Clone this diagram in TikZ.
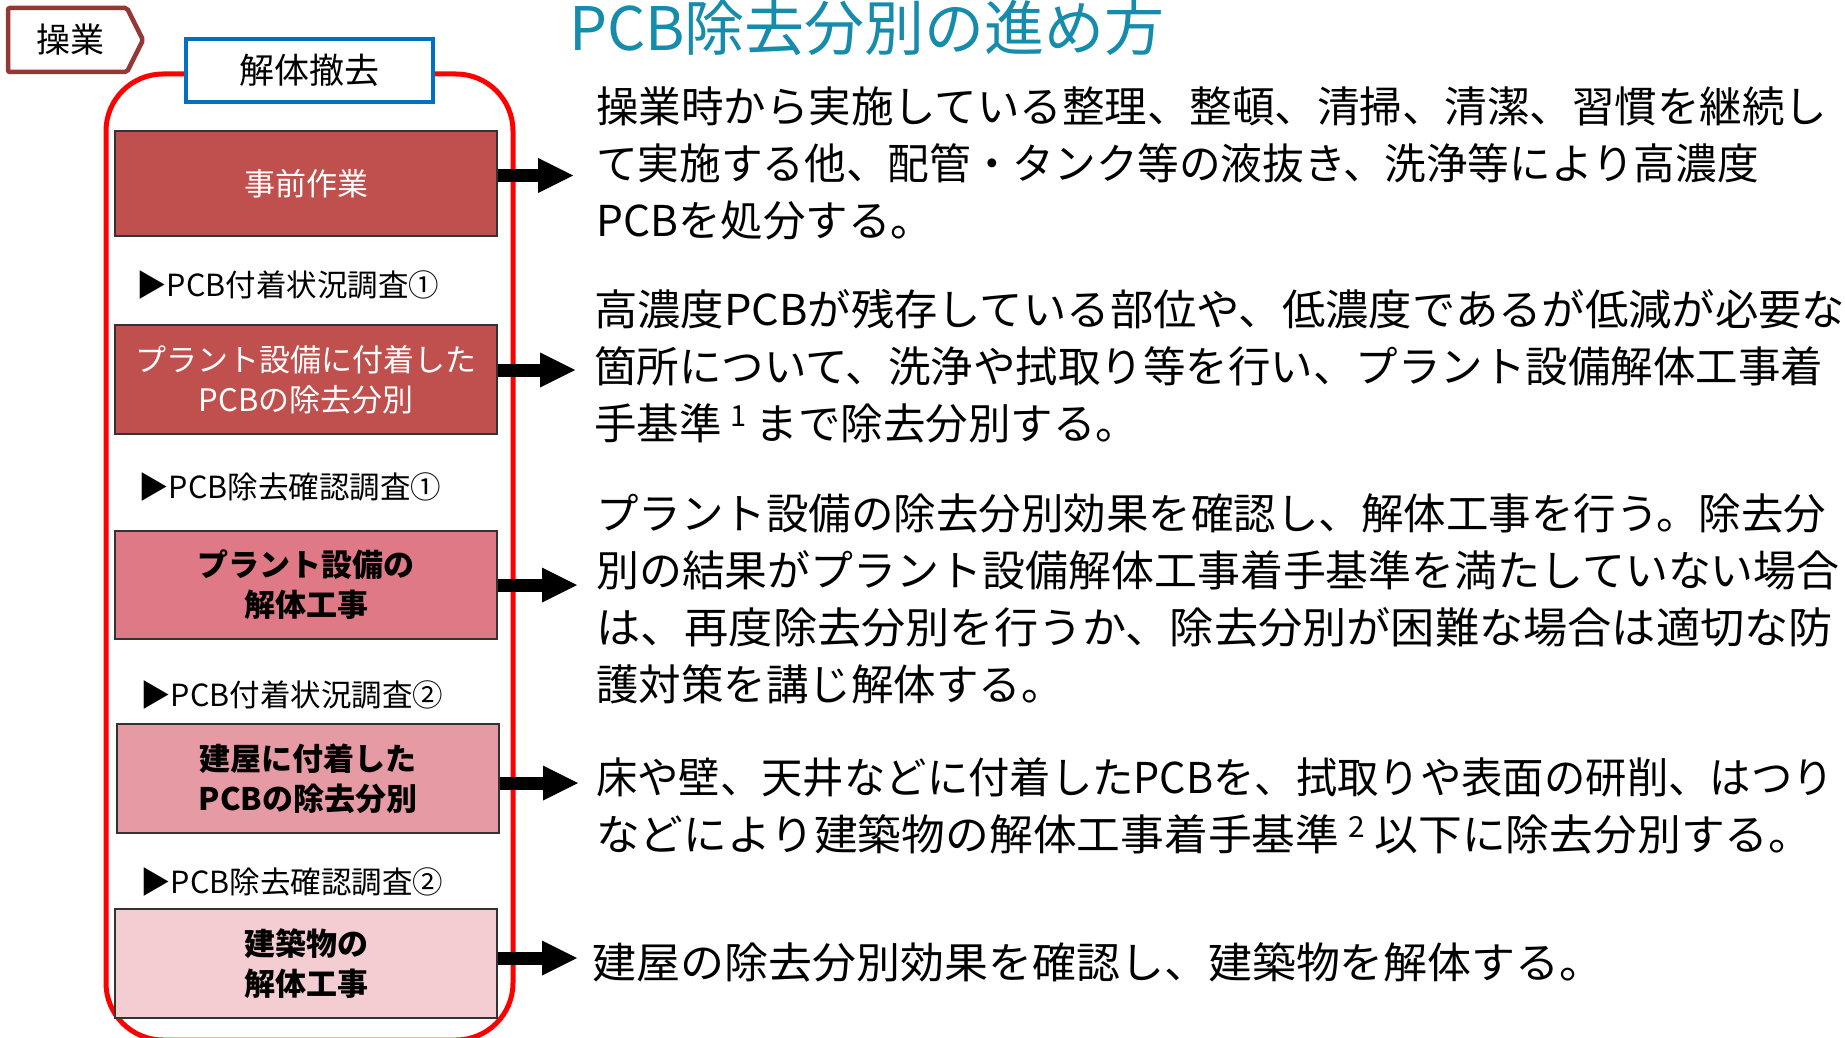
\documentclass[tikz,border=0pt]{standalone}
\usepackage{graphicx}
\usepackage{fontspec}
\setmainfont{Noto Sans CJK JP}
\usetikzlibrary{arrows.meta}
\definecolor{tagred}{RGB}{149,55,53}
\definecolor{hdblue}{RGB}{0,112,192}
\definecolor{boxA}{RGB}{192,80,77}
\definecolor{boxB}{RGB}{223,121,134}
\definecolor{boxC}{RGB}{230,155,164}
\definecolor{boxD}{RGB}{243,205,210}
\definecolor{titleteal}{RGB}{22,140,172}
\newcommand{\supnum}[1]{\hspace{9pt}\raisebox{13pt}{\fontsize{29pt}{29pt}\selectfont #1}\hspace{9pt}}
\newcommand{\sx}[2]{\scalebox{#1}[1]{#2}}
\begin{document}
\begin{tikzpicture}[x=1pt,y=-1pt,
  stepbox/.style={draw=black!80, line width=1.2pt, minimum width=382pt, inner sep=0pt, align=center, font=\fontsize{31pt}{40pt}\selectfont},
  boldtext/.style={font=\fontsize{31pt}{40pt}\selectfont\bfseries},
  lbl/.style={anchor=west, inner sep=0pt, font=\fontsize{30.5pt}{34pt}\selectfont},
  body/.style={anchor=west, inner sep=0pt, align=left, font=\fontsize{42.5pt}{57pt}\selectfont},
  bigarrow/.style={line width=13pt, -{Triangle[length=35pt,width=35pt,line width=0pt]}},
]
\useasboundingbox (0,0) rectangle (1845,1038);
\clip (0,0) rectangle (1845,1038);
\fill[white] (0,0) rectangle (1845,1038);

% tag
\draw[tagred, line width=4.5pt, fill=white, rounded corners=2pt] (8,8) -- (127,8) -- (143,40) -- (127,72) -- (8,72) -- cycle;
\node[inner sep=0pt, font=\fontsize{34pt}{34pt}\selectfont] (tag) at (70,40) {操業};

% red frame
\draw[red, line width=5pt, rounded corners=57pt] (106,74) rectangle (513,1040);

% header
\node[draw=hdblue, line width=4.5pt, fill=white, minimum width=247pt, minimum height=63pt, inner sep=0pt, font=\fontsize{35pt}{35pt}\selectfont] (hd) at (309.5,70.5) {解体撤去};

% title
\node[anchor=west, inner sep=0pt, text=titleteal, font=\fontsize{60pt}{60pt}\selectfont] (title) at (569,28) {PCB除去分別の進め方};

% step boxes
\node[stepbox, fill=boxA, text=white, minimum height=105pt] (b1) at (306,183.5) {事前作業};
\node[stepbox, fill=boxA, text=white, minimum height=109pt] (b2) at (306,379.5) {プラント設備に付着した\\PCBの除去分別};
\node[stepbox, boldtext, fill=boxB, minimum height=108pt] (b3) at (306,585) {プラント設備の\\解体工事};
\node[stepbox, boldtext, fill=boxC, minimum height=109pt] (b4) at (308,778.5) {建屋に付着した\\PCBの除去分別};
\node[stepbox, boldtext, fill=boxD, minimum height=109pt] (b5) at (306,963.5) {建築物の\\解体工事};

% survey labels
\node[lbl] (l1) at (136,285) {▶PCB付着状況調査①};
\node[lbl] (l2) at (138,487) {▶PCB除去確認調査①};
\node[lbl] (l3) at (140,695) {▶PCB付着状況調査②};
\node[lbl] (l4) at (140,882) {▶PCB除去確認調査②};

% descriptions
\node[body] (d1) at (596,163) {操業時から実施している整理、整頓、清掃、清潔、習慣を継続し\\\sx{0.98}{て実施する他、配管・タンク等の液抜き、洗浄等により高濃度}\\PCBを処分する。};
\node[body] (d2) at (594,366.5) {\sx{1.02}{高濃度PCBが残存している部位や、低濃度であるが低減が必要な}\\箇所について、洗浄や拭取り等を行い、プラント設備解体工事着\\手基準\supnum{1}まで除去分別する。};
\node[body] (d3) at (596,599) {プラント設備の除去分別効果を確認し、解体工事を行う。除去分\\\sx{1.01}{別の結果がプラント設備解体工事着手基準を満たしていない場合}\\\sx{1.04}{は、再度除去分別を行うか、除去分別が困難な場合は適切な防}\\護対策を講じ解体する。};
\node[body] (d4) at (596,806) {\sx{0.973}{床や壁、天井などに付着したPCBを、拭取りや表面の研削、はつり}\\\sx{1.03}{などにより建築物の解体工事着手基準\supnum{2}以下に除去分別する。}};
\node[body] (d5) at (592,962) {\sx{1.035}{建屋の除去分別効果を確認し、建築物を解体する。}};

% arrows
\coordinate (t1) at (573,175.5);
\coordinate (t2) at (575,370);
\coordinate (t3) at (577,585);
\coordinate (t4) at (578,783);
\coordinate (t5) at (577,958);
\draw[bigarrow] (b1.east |- t1) -- (t1);
\draw[bigarrow] (b2.east |- t2) -- (t2);
\draw[bigarrow] (b3.east |- t3) -- (t3);
\draw[bigarrow] (b4.east |- t4) -- (t4);
\draw[bigarrow] (b5.east |- t5) -- (t5);
\end{tikzpicture}
\end{document}
